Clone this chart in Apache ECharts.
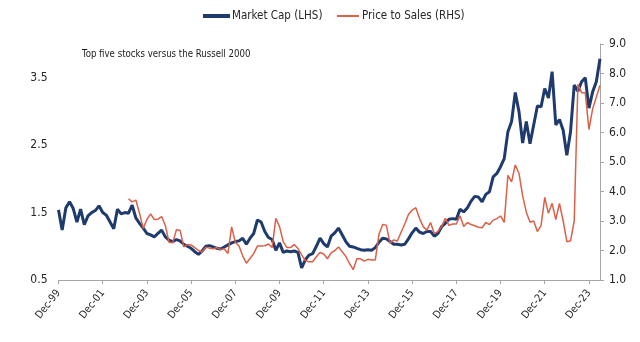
<!DOCTYPE html>
<html>
<head>
<meta charset="utf-8">
<script src="https://cdn.jsdelivr.net/npm/echarts@6/dist/echarts.min.js"></script>
<style>
html,body{margin:0;padding:0;background:#fff;}
#c{width:640px;height:342px;}
</style>
</head>
<body>
<div id="c"></div>
<script>
// Bimonthly observations starting Dec-1999 (every 2nd month)
var startYear = 1999, startMonth = 11; // December
var tickLabels = ['Dec-99','Dec-01','Dec-03','Dec-05','Dec-07','Dec-09','Dec-11','Dec-13','Dec-15','Dec-17','Dec-19','Dec-21','Dec-23'];

var marketCap = [
  1.54,1.24,1.57,1.66,1.56,1.36,1.55,1.32,1.45,1.50,1.53,1.60,
  1.50,1.46,1.36,1.26,1.55,1.48,1.50,1.49,1.61,1.42,1.34,1.27,
  1.19,1.17,1.14,1.19,1.24,1.14,1.09,1.07,1.10,1.08,1.03,1.00,
  0.97,0.92,0.88,0.93,1.00,1.01,0.99,0.97,0.96,0.99,1.02,1.05,
  1.07,1.08,1.12,1.03,1.12,1.19,1.39,1.36,1.22,1.13,1.10,0.94,
  1.05,0.91,0.93,0.92,0.93,0.91,0.68,0.80,0.87,0.89,1.00,1.12,
  1.04,0.99,1.15,1.20,1.27,1.17,1.07,1.00,0.99,0.97,0.95,0.94,
  0.95,0.94,0.98,1.06,1.12,1.11,1.07,1.03,1.03,1.02,1.03,1.11,
  1.20,1.27,1.21,1.19,1.22,1.22,1.15,1.19,1.29,1.34,1.40,1.41,
  1.40,1.55,1.51,1.57,1.67,1.74,1.73,1.66,1.77,1.81,2.03,2.08,
  2.18,2.30,2.70,2.85,3.28,3.00,2.53,2.85,2.52,2.80,3.08,3.07,
  3.34,3.20,3.59,2.80,2.88,2.72,2.35,2.70,3.39,3.30,3.44,3.50,
  3.05,3.29,3.44,3.78
];

var priceToSales = [
  null,null,null,null,null,null,null,null,null,null,null,null,
  null,null,null,null,null,null,null,3.75,3.65,3.71,3.26,2.75,
  3.05,3.24,3.05,3.06,3.15,2.85,2.28,2.26,2.70,2.69,2.12,2.20,
  2.19,2.10,2.00,1.95,2.11,2.08,2.06,2.10,2.03,2.06,1.90,2.80,
  2.28,2.15,1.82,1.57,1.73,1.90,2.15,2.15,2.16,2.22,2.10,3.09,
  2.81,2.30,2.10,2.10,2.20,2.07,1.85,1.66,1.62,1.62,1.79,1.93,
  1.88,1.72,1.92,2.00,2.12,1.96,1.80,1.56,1.35,1.72,1.72,1.64,
  1.70,1.68,1.68,2.55,2.88,2.86,2.24,2.36,2.32,2.62,2.90,3.22,
  3.37,3.45,3.09,2.81,2.69,2.95,2.58,2.64,2.81,3.09,2.85,2.90,
  2.90,3.18,2.81,2.95,2.88,2.84,2.79,2.77,2.95,2.88,3.03,3.08,
  3.17,2.95,4.55,4.33,4.90,4.62,3.85,3.30,2.96,3.00,2.64,2.84,
  3.80,3.26,3.60,3.05,3.60,3.00,2.30,2.33,3.00,7.63,7.35,7.35,
  6.10,6.80,7.20,7.60
];

var monthNames = ['Jan','Feb','Mar','Apr','May','Jun','Jul','Aug','Sep','Oct','Nov','Dec'];
var categories = marketCap.map(function(_, i){
  var t = startMonth + 2*i;
  var y = startYear + Math.floor(t/12);
  return monthNames[t%12] + '-' + String(y%100).padStart(2,'0');
});

var FONT = "'DejaVu Sans Condensed','DejaVu Sans',sans-serif";
var chart = echarts.init(document.getElementById('c'), null, {renderer:'canvas'});
chart.setOption({
  animation:false,
  backgroundColor:'#ffffff',
  textStyle:{fontFamily:FONT},
  legend:[
    {data:['Market Cap (LHS)'], left:198, top:5, icon:'rect', itemWidth:27, itemHeight:4, itemGap:0,
     textStyle:{fontFamily:FONT, fontSize:11.5, color:'#262626', padding:[0,0,0,-3]}},
    {data:['Price to Sales (RHS)'], left:332, top:5, icon:'rect', itemWidth:22, itemHeight:2,
     textStyle:{fontFamily:FONT, fontSize:11.5, color:'#262626', padding:[0,0,0,-2]}}
  ],
  graphic:[{type:'text', x:82, y:49, scaleX:0.87, style:{text:'Top five stocks versus the Russell 2000', font:'11px '+FONT, fill:'#1a1a1a'}}],
  grid:{left:58.5, right:40, top:44, bottom:62},
  xAxis:{
    type:'category', data:categories, boundaryGap:false,
    axisLine:{lineStyle:{color:'#A6A6A6', width:1}},
    axisTick:{show:true, interval:11, length:4, lineStyle:{color:'#A6A6A6'}},
    axisLabel:{interval:11, rotate:52, fontFamily:FONT, fontSize:10.5, color:'#262626', margin:11,
      formatter:function(v){ return tickLabels.indexOf(v)>=0 ? v : ''; }},
    splitLine:{show:false}
  },
  yAxis:[
    {type:'value', min:0.5, max:4, interval:0.5, position:'left',
     axisLine:{show:false}, axisTick:{show:false}, splitLine:{show:false},
     axisLabel:{fontFamily:FONT, fontSize:12, color:'#262626', margin:11,
       formatter:function(v){ var r = Math.round((v-0.5)*10)/10; return (Math.abs(r%1)<1e-6) ? v.toFixed(1) : ''; }}},
    {type:'value', min:1, max:9, interval:1, position:'right',
     axisLine:{show:true, lineStyle:{color:'#A6A6A6'}}, axisTick:{show:true, length:4, lineStyle:{color:'#A6A6A6'}},
     splitLine:{show:false},
     axisLabel:{fontFamily:FONT, fontSize:12, color:'#262626', margin:9, formatter:function(v){return v.toFixed(1);}}}
  ],
  series:[
    {name:'Market Cap (LHS)', type:'line', yAxisIndex:0, data:marketCap, showSymbol:false, symbol:'none',
     lineStyle:{color:'#1F3B6E', width:3}, itemStyle:{color:'#1F3B6E'}, z:2},
    {name:'Price to Sales (RHS)', type:'line', yAxisIndex:1, data:priceToSales, showSymbol:false, symbol:'none',
     lineStyle:{color:'#DC6048', width:1.5}, itemStyle:{color:'#DC6048'}, z:3}
  ]
});
</script>
</body>
</html>
